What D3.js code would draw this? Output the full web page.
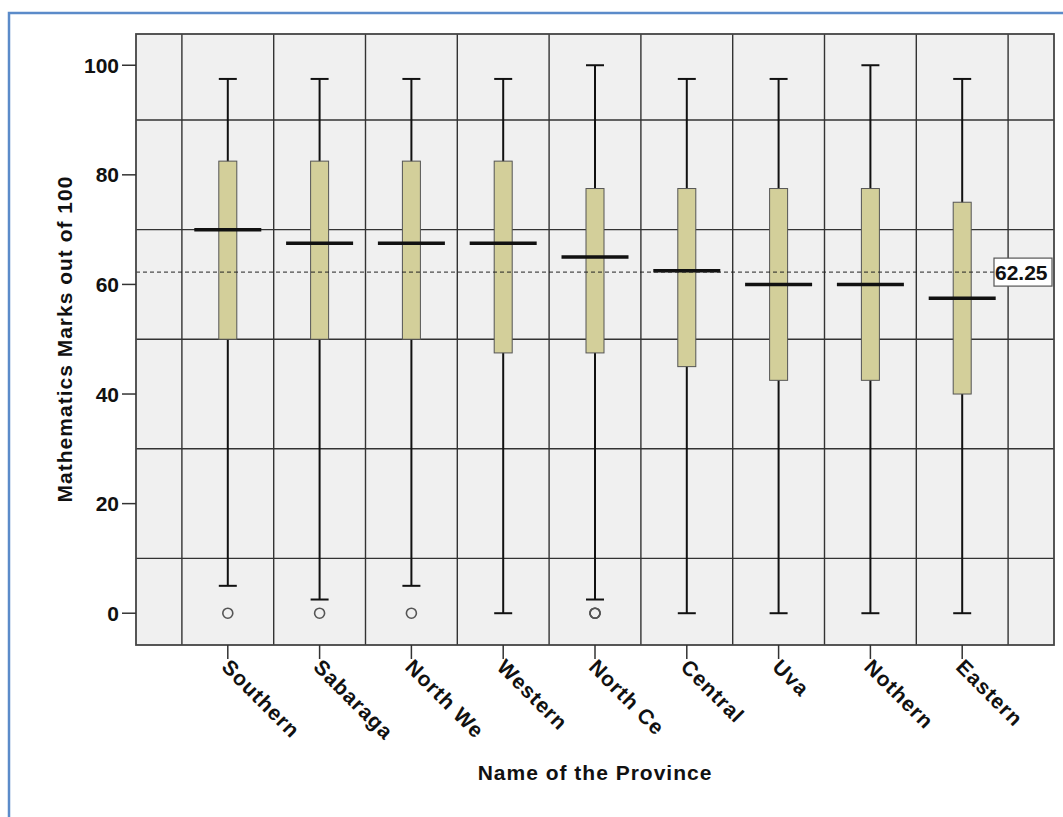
<!DOCTYPE html>
<html lang="en">
<head>
  <meta charset="UTF-8" />
  <title>Mathematics Marks by Province</title>
  <script src="https://d3js.org/d3.v7.min.js"></script>
  <style>
    body {
      margin: 0;
      padding: 0;
      background: white;
    }
    text {
      font-family: "Liberation Sans", Arial, sans-serif;
      font-weight: bold;
      font-size: 21px;
      letter-spacing: 1px;
      fill: #111;
    }
    .grid {
      stroke: #333;
      stroke-width: 1.4px;
    }
    .box {
      fill: #d3cf9a;
      stroke: #555;
      stroke-width: 1px;
    }
    .whisker {
      stroke: #111;
      stroke-width: 2px;
    }
    .median {
      stroke: #111;
      stroke-width: 3.5px;
    }
    .outlier {
      fill: none;
      stroke: #555;
      stroke-width: 1.6px;
    }
  </style>
</head>
<body>
  <svg width="1063" height="817"></svg>

  <script>
    const provinces = ["Southern", "Sabaraga", "North We", "Western", "North Ce", "Central", "Uva", "Nothern", "Eastern"];
    const whiskerHigh = [97.5, 97.5, 97.5, 97.5, 100, 97.5, 97.5, 100, 97.5];
    const q3 = [82.5, 82.5, 82.5, 82.5, 77.5, 77.5, 77.5, 77.5, 75];
    const medians = [70, 67.5, 67.5, 67.5, 65, 62.5, 60, 60, 57.5];
    const q1 = [50, 50, 50, 47.5, 47.5, 45, 42.5, 42.5, 40];
    const whiskerLow = [5, 2.5, 5, 0, 2.5, 0, 0, 0, 0];
    // outliers per province (North Ce has several at the same spot)
    const outliers = [[0], [0], [0], [], [0, 0, 0], [], [], [], []];
    const yTicks = [0, 20, 40, 60, 80, 100];
    const gridValues = [10, 30, 50, 70, 90];
    const refValue = 62.25;

    const svg = d3.select("svg");

    // blue frame around the whole output
    svg.append("rect")
      .attr("x", 9).attr("y", 13)
      .attr("width", 1200).attr("height", 1000)
      .attr("fill", "none")
      .attr("stroke", "#5b8bc9")
      .attr("stroke-width", 2.5);

    const plotLeft = 136, plotRight = 1054, plotTop = 34, plotBottom = 645;

    const x = d3.scaleBand()
      .domain(provinces)
      .range([plotLeft, plotRight])
      .paddingInner(0)
      .paddingOuter(0.5);

    const y = d3.scaleLinear()
      .domain([-5.8, 105.7])
      .range([plotBottom, plotTop]);

    // plot background
    svg.append("rect")
      .attr("x", plotLeft).attr("y", plotTop)
      .attr("width", plotRight - plotLeft).attr("height", plotBottom - plotTop)
      .attr("fill", "#f0f0f0");

    // horizontal grid
    svg.selectAll(".hgrid")
      .data(gridValues)
      .enter()
      .append("line")
      .attr("class", "grid")
      .attr("x1", plotLeft).attr("x2", plotRight)
      .attr("y1", (d) => y(d)).attr("y2", (d) => y(d));

    // vertical grid at band edges
    const edges = provinces.map((p) => x(p)).concat([x(provinces[provinces.length - 1]) + x.bandwidth()]);
    svg.selectAll(".vgrid")
      .data(edges)
      .enter()
      .append("line")
      .attr("class", "grid")
      .attr("x1", (d) => d).attr("x2", (d) => d)
      .attr("y1", plotTop).attr("y2", plotBottom);

    const rows = provinces.map((p, i) => ({
      name: p,
      cx: x(p) + x.bandwidth() / 2,
      hi: whiskerHigh[i],
      q3: q3[i],
      med: medians[i],
      q1: q1[i],
      lo: whiskerLow[i],
      out: outliers[i],
    }));

    const boxW = 18, capW = 18, medW = 67;

    const g = svg.selectAll(".bp")
      .data(rows)
      .enter()
      .append("g");

    // whisker line
    g.append("line")
      .attr("class", "whisker")
      .attr("x1", (d) => d.cx).attr("x2", (d) => d.cx)
      .attr("y1", (d) => y(d.hi)).attr("y2", (d) => y(d.lo));

    // caps
    g.append("line")
      .attr("class", "whisker")
      .attr("x1", (d) => d.cx - capW / 2).attr("x2", (d) => d.cx + capW / 2)
      .attr("y1", (d) => y(d.hi)).attr("y2", (d) => y(d.hi));
    g.append("line")
      .attr("class", "whisker")
      .attr("x1", (d) => d.cx - capW / 2).attr("x2", (d) => d.cx + capW / 2)
      .attr("y1", (d) => y(d.lo)).attr("y2", (d) => y(d.lo));

    // box
    g.append("rect")
      .attr("class", "box")
      .attr("x", (d) => d.cx - boxW / 2)
      .attr("width", boxW)
      .attr("y", (d) => y(d.q3))
      .attr("height", (d) => y(d.q1) - y(d.q3));

    // outliers
    g.selectAll(".outlier")
      .data((d) => d.out.map((v) => ({ cx: d.cx, v })))
      .enter()
      .append("circle")
      .attr("class", "outlier")
      .attr("cx", (d) => d.cx)
      .attr("cy", (d) => y(d.v))
      .attr("r", 5);

    // reference line
    svg.append("line")
      .attr("x1", plotLeft).attr("x2", 994)
      .attr("y1", y(refValue)).attr("y2", y(refValue))
      .attr("stroke", "#222")
      .attr("stroke-width", 1)
      .attr("stroke-dasharray", "4,3");

    // medians (drawn above reference line)
    g.append("line")
      .attr("class", "median")
      .attr("x1", (d) => d.cx - medW / 2).attr("x2", (d) => d.cx + medW / 2)
      .attr("y1", (d) => y(d.med)).attr("y2", (d) => y(d.med));

    // plot frame
    svg.append("rect")
      .attr("x", plotLeft).attr("y", plotTop)
      .attr("width", plotRight - plotLeft).attr("height", plotBottom - plotTop)
      .attr("fill", "none")
      .attr("stroke", "#444")
      .attr("stroke-width", 1.8);

    // reference label
    const refLabel = svg.append("g");
    refLabel.append("rect")
      .attr("x", 994).attr("y", y(refValue) - 14)
      .attr("width", 58).attr("height", 28)
      .attr("fill", "white")
      .attr("stroke", "#555")
      .attr("stroke-width", 1.2);
    refLabel.append("text")
      .attr("x", 995)
      .attr("y", y(refValue) + 7.5)
      .style("letter-spacing", "0px")
      .text(refValue.toFixed(2));

    // y axis
    const yAxis = svg.append("g");
    yAxis.selectAll("line")
      .data(yTicks)
      .enter()
      .append("line")
      .attr("x1", 122).attr("x2", plotLeft)
      .attr("y1", (d) => y(d)).attr("y2", (d) => y(d))
      .attr("stroke", "#333")
      .attr("stroke-width", 1.5);
    yAxis.selectAll("text")
      .data(yTicks)
      .enter()
      .append("text")
      .attr("x", 119)
      .attr("y", (d) => y(d))
      .attr("dy", "0.36em")
      .attr("text-anchor", "end")
      .style("letter-spacing", "0px")
      .text((d) => d);

    // x axis
    const xAxis = svg.append("g");
    xAxis.selectAll("line")
      .data(rows)
      .enter()
      .append("line")
      .attr("x1", (d) => d.cx).attr("x2", (d) => d.cx)
      .attr("y1", plotBottom).attr("y2", 659)
      .attr("stroke", "#333")
      .attr("stroke-width", 1.5);
    xAxis.selectAll("text")
      .data(rows)
      .enter()
      .append("text")
      .attr("transform", (d) => `translate(${d.cx - 2},${663}) rotate(45)`)
      .attr("dy", "0.36em")
      .attr("text-anchor", "start")
      .text((d) => d.name);

    // axis titles
    svg.append("text")
      .attr("x", 595)
      .attr("y", 780)
      .attr("text-anchor", "middle")
      .text("Name of the Province");

    svg.append("text")
      .attr("transform", "translate(72,339) rotate(-90)")
      .attr("text-anchor", "middle")
      .text("Mathematics Marks out of 100");
  </script>
</body>
</html>
